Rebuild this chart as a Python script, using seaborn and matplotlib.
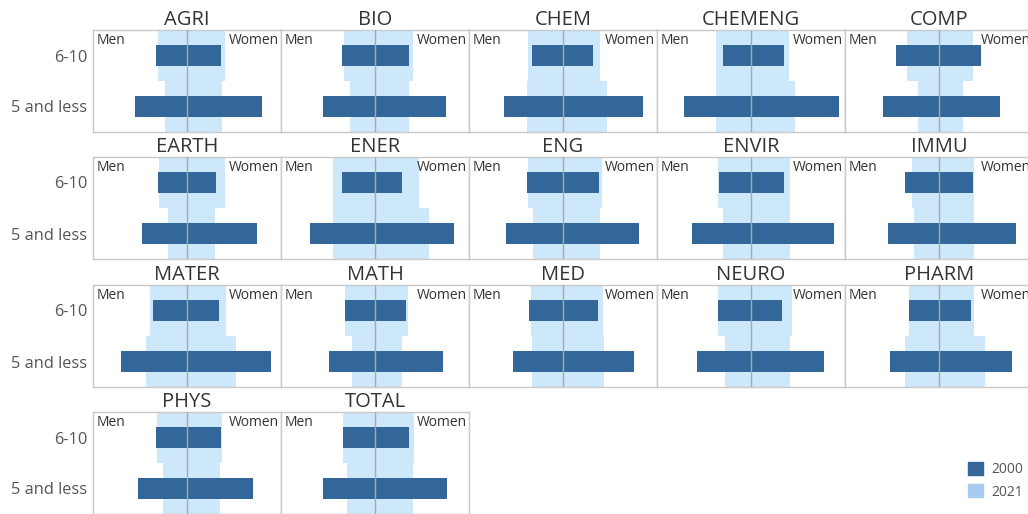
import pandas as pd
import matplotlib
matplotlib.use("Agg")
import matplotlib.pyplot as plt
from matplotlib.patches import Patch
import seaborn as sns

# share of researchers by career age, men drawn to the left, women to the right
fields = ["AGRI", "BIO", "CHEM", "CHEMENG", "COMP",
          "EARTH", "ENER", "ENG", "ENVIR", "IMMU",
          "MATER", "MATH", "MED", "NEURO", "PHARM",
          "PHYS", "TOTAL"]
ages = ["6-10", "5 and less"]

men_2000_6_10 = [15.3, 16.4, 15.4, 14.0, 21.5, 14.5, 16.7, 18.1, 15.8, 16.9, 17.0, 14.9, 16.9, 16.3, 14.8, 15.7, 16.2]
women_2000_6_10 = [16.9, 17.2, 15.0, 16.5, 21.2, 14.4, 13.4, 18.0, 16.7, 16.9, 16.0, 15.5, 17.3, 15.7, 16.0, 16.9, 17.2]
men_2000_5 = [25.8, 26.2, 29.7, 33.7, 28.2, 22.4, 32.7, 28.7, 29.5, 25.5, 32.8, 22.9, 25.1, 27.1, 24.6, 24.5, 26.2]
women_2000_5 = [37.5, 35.5, 40.2, 44.0, 30.7, 34.9, 39.7, 37.8, 41.3, 38.3, 41.9, 34.2, 35.4, 36.7, 36.5, 33.0, 36.0]

men_2021_6_10 = [14.5, 15.4, 17.5, 17.5, 16.0, 14.0, 21.2, 17.7, 16.3, 13.5, 18.7, 14.9, 15.8, 16.3, 15.1, 14.8, 15.9]
women_2021_6_10 = [18.9, 18.9, 18.4, 19.0, 16.9, 19.2, 22.2, 19.3, 19.3, 17.6, 19.7, 16.3, 20.2, 20.7, 17.6, 17.7, 19.7]
men_2021_5 = [11.2, 12.4, 17.9, 17.5, 10.5, 9.5, 21.2, 14.9, 14.0, 12.4, 20.7, 11.5, 15.3, 12.8, 16.9, 12.0, 14.2]
women_2021_5 = [17.5, 17.2, 22.2, 22.2, 12.2, 14.2, 27.2, 18.7, 19.3, 17.3, 24.7, 13.3, 20.3, 19.3, 23.0, 16.7, 18.8]

years = ["2000", "2021"]

DARK = "#336699"
LIGHT = "#cde8fb"
LEGEND_LIGHT = "#a8ccf0"
BORDER = "#c8c8c8"
TEXT = "#333333"


def build_frame():
    series = {
        ("2000", "Men", "6-10"): men_2000_6_10,
        ("2000", "Women", "6-10"): women_2000_6_10,
        ("2000", "Men", "5 and less"): men_2000_5,
        ("2000", "Women", "5 and less"): women_2000_5,
        ("2021", "Men", "6-10"): men_2021_6_10,
        ("2021", "Women", "6-10"): women_2021_6_10,
        ("2021", "Men", "5 and less"): men_2021_5,
        ("2021", "Women", "5 and less"): women_2021_5,
    }
    rows = []
    for (year, sex, age), vals in series.items():
        for f, v in zip(fields, vals):
            rows.append({"field": f, "year": year, "sex": sex, "age": age,
                         "value": -v if sex == "Men" else v})
    return pd.DataFrame(rows)


df = build_frame()

sns.set_style("white")
plt.rcParams["font.family"] = ["Open Sans", "DejaVu Sans"]

W, H = 1028, 514
fig = plt.figure(figsize=(W / 100, H / 100), dpi=100)

col_left = [93, 281, 469, 657, 845]
row_top = [30, 157, 285, 412]
pw, ph = 188, 102

for i, name in enumerate(fields):
    r, c = divmod(i, 5)
    ax = fig.add_axes([col_left[c] / W, (H - row_top[r] - ph) / H, pw / W, ph / H])
    sub = df[df["field"] == name]
    for year, color, width in [("2021", LIGHT, 1.0), ("2000", DARK, 0.42)]:
        sns.barplot(data=sub[sub["year"] == year], x="value", y="age", hue="sex",
                    order=ages, dodge=False, palette={"Men": color, "Women": color},
                    width=width, saturation=1, errorbar=None, legend=False,
                    linewidth=0, ax=ax)
    ax.axvline(0, color="#a9a9a9", lw=1, zorder=5)
    ax.set_xlim(-47, 47)
    ax.set_ylim(1.5, -0.5)
    ax.set_xlabel("")
    ax.set_ylabel("")
    ax.set_xticks([])
    if c == 0:
        ax.tick_params(axis="y", length=0, pad=4, labelsize=11.8, labelcolor="#555555")
    else:
        ax.set_yticks([])
    for s in ax.spines.values():
        s.set_visible(True)
        s.set_color(BORDER)
        s.set_linewidth(1)
    ax.set_title(name, fontsize=14.5, pad=0, color=TEXT)
    ax.text(0.02, 0.97, "Men", transform=ax.transAxes, ha="left", va="top",
            fontsize=10, color=TEXT)
    # the last column runs past the figure edge, as in the original dashboard
    ax.text(0.99, 0.97, "Women", transform=ax.transAxes, ha="right", va="top",
            fontsize=10, color=TEXT)

handles = [Patch(color=DARK, label=years[0]), Patch(color=LEGEND_LIGHT, label=years[1])]
fig.legend(handles=handles, loc="lower left", bbox_to_anchor=(955 / W, 2 / H),
           frameon=False, fontsize=10, handlelength=1.1, handleheight=1.1,
           handletextpad=0.6, labelspacing=0.5, labelcolor="#555555")

fig.savefig("out.png", dpi=100)
